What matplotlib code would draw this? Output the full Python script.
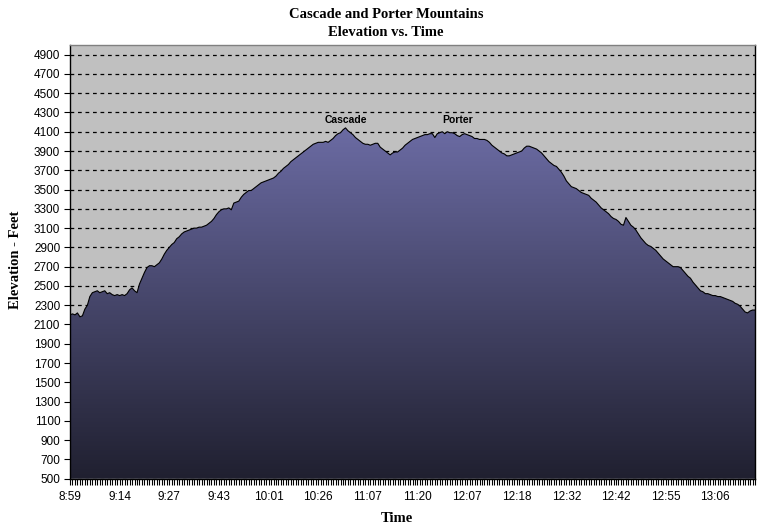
import numpy as np
import matplotlib
matplotlib.use('Agg')
import matplotlib.pyplot as plt
from matplotlib.colors import LinearSegmentedColormap
from matplotlib.patches import Polygon

# ---- data (elevation in feet, one value per recorded sample) ----
elev_seg0 = [2200, 2210, 2200, 2220, 2180, 2190, 2260, 2300, 2390, 2430, 2440, 2450, 2430, 2440, 2450, 2420, 2430, 2410, 2400, 2410]
elev_seg1 = [2400, 2410, 2400, 2420, 2460, 2480, 2450, 2430, 2520, 2580, 2640, 2690, 2710, 2710, 2700, 2720, 2740, 2780, 2830, 2870]
elev_seg2 = [2900, 2930, 2950, 2990, 3010, 3040, 3060, 3070, 3080, 3090, 3100, 3100, 3110, 3110, 3120, 3130, 3150, 3170, 3200, 3240]
elev_seg3 = [3270, 3290, 3300, 3300, 3310, 3290, 3360, 3370, 3380, 3420, 3450, 3470, 3490, 3490, 3510, 3530, 3550, 3570, 3580, 3590]
elev_seg4 = [3600, 3610, 3620, 3640, 3670, 3690, 3720, 3740, 3760, 3790, 3810, 3830, 3850, 3870, 3890, 3910, 3930, 3950, 3970, 3980]
elev_seg5 = [3990, 3990, 3990, 4000, 3990, 4010, 4030, 4060, 4080, 4090, 4120, 4140, 4110, 4090, 4070, 4040, 4020, 4000, 3980, 3970]
elev_seg6 = [3970, 3960, 3970, 3980, 3980, 3940, 3920, 3900, 3880, 3860, 3880, 3890, 3890, 3910, 3930, 3960, 3980, 4000, 4020, 4030]
elev_seg7 = [4040, 4050, 4060, 4070, 4070, 4080, 4080, 4040, 4080, 4090, 4100, 4080, 4100, 4090, 4090, 4080, 4060, 4050, 4070, 4080]
elev_seg8 = [4070, 4060, 4050, 4030, 4030, 4020, 4020, 4020, 4010, 3990, 3960, 3940, 3920, 3900, 3880, 3870, 3850, 3850, 3860, 3870]
elev_seg9 = [3880, 3890, 3900, 3930, 3950, 3950, 3940, 3930, 3920, 3900, 3880, 3850, 3820, 3790, 3770, 3750, 3740, 3710, 3680, 3640]
elev_seg10 = [3590, 3560, 3530, 3520, 3510, 3490, 3470, 3460, 3450, 3440, 3410, 3390, 3370, 3340, 3310, 3290, 3270, 3250, 3220, 3200]
elev_seg11 = [3190, 3170, 3140, 3130, 3210, 3170, 3130, 3110, 3080, 3040, 3000, 2970, 2940, 2920, 2910, 2890, 2870, 2840, 2810, 2780]
elev_seg12 = [2760, 2740, 2720, 2700, 2700, 2700, 2690, 2660, 2630, 2600, 2580, 2540, 2510, 2480, 2450, 2440, 2420, 2420, 2410, 2400]
elev_seg13 = [2400, 2390, 2390, 2380, 2370, 2360, 2350, 2340, 2320, 2310, 2290, 2260, 2230, 2220, 2240, 2250, 2250]

time_labels = ['8:59', '9:14', '9:27', '9:43', '10:01', '10:26', '11:07',
               '11:20', '12:07', '12:18', '12:32', '12:42', '12:55', '13:06']
label_step = 20

y_ticks = list(range(500, 5000, 200))
y_min, y_max = 500, 5000

peak_names = ['Cascade', 'Porter']
peak_index = [111, 156]
peak_label_y = [4225, 4225]

elev = (elev_seg0 + elev_seg1 + elev_seg2 + elev_seg3 + elev_seg4 + elev_seg5 +
        elev_seg6 + elev_seg7 + elev_seg8 + elev_seg9 + elev_seg10 + elev_seg11 +
        elev_seg12 + elev_seg13)
elev = np.array(elev, dtype=float)
n = len(elev)
x = np.arange(n)

# ---- figure ----
W, H = 772, 527
fig = plt.figure(figsize=(W / 100, H / 100), dpi=100)
fig.patch.set_facecolor('white')
L, R, T, B = 70, 755, 45, 478.7
ax = fig.add_axes([L / W, (H - B) / H, (R - L) / W, (B - T) / H])
ax.set_facecolor('#C0C0C0')

# gridlines
ax.set_yticks(y_ticks)
ax.yaxis.grid(True, color='black', linestyle=(0, (3, 3)), linewidth=0.9)
ax.set_axisbelow(True)

# gradient-filled area
verts = np.column_stack([np.r_[x[0], x, x[-1]], np.r_[y_min, elev, y_min]])
poly = Polygon(verts, closed=True, facecolor='none', edgecolor='none', zorder=2)
ax.add_patch(poly)
cmap = LinearSegmentedColormap.from_list('g', ['#202030', '#6b6ba3'])
grad = np.linspace(0, 1, 256).reshape(-1, 1)
img = ax.imshow(grad, extent=[x[0], x[-1], y_min, elev.max()], origin='lower',
                cmap=cmap, aspect='auto', zorder=2, interpolation='bilinear')
img.set_clip_path(poly)
ax.plot(x, elev, color='black', linewidth=0.8, zorder=3)

ax.set_xlim(x[0], x[-1])
ax.set_ylim(y_min, y_max)

# ticks
sans = 'Liberation Sans'
serif = 'Liberation Serif'
ax.set_xticks(x[::label_step])
ax.set_xticklabels(time_labels, fontfamily=sans, fontsize=8.5)
ax.set_xticks(x, minor=True)
ax.tick_params(axis='x', which='both', direction='out', length=4, width=0.8,
               color='black', pad=5)
ax.set_yticklabels([str(v) for v in y_ticks], fontfamily=sans, fontsize=8.5)
ax.tick_params(axis='y', which='major', direction='out', length=4, width=0.8,
               color='black', pad=3)

for side in ['left', 'bottom', 'right']:
    ax.spines[side].set_color('black')
    ax.spines[side].set_linewidth(1.0)
ax.spines['top'].set_color('#808080')
ax.spines['top'].set_linewidth(1.0)

# peak labels
for name, idx, ly in zip(peak_names, peak_index, peak_label_y):
    ax.text(idx, ly, name, ha='center', va='center', fontfamily=sans,
            fontweight='bold', fontsize=7.5, zorder=4)

# titles
fig.text(386 / W, 1 - 15 / H, 'Cascade and Porter Mountains', ha='center', va='center',
         fontfamily=serif, fontweight='bold', fontsize=10.5)
fig.text(386 / W, 1 - 33 / H, 'Elevation vs. Time', ha='center', va='center',
         fontfamily=serif, fontweight='bold', fontsize=10.5)
fig.text(397 / W, 1 - 518 / H, 'Time', ha='center', va='center',
         fontfamily=serif, fontweight='bold', fontsize=10.5)
fig.text(16 / W, 1 - 260 / H, 'Elevation - Feet', ha='center', va='center',
         rotation=90, fontfamily=serif, fontweight='bold', fontsize=10.5)

fig.savefig('out.png', dpi=100)
